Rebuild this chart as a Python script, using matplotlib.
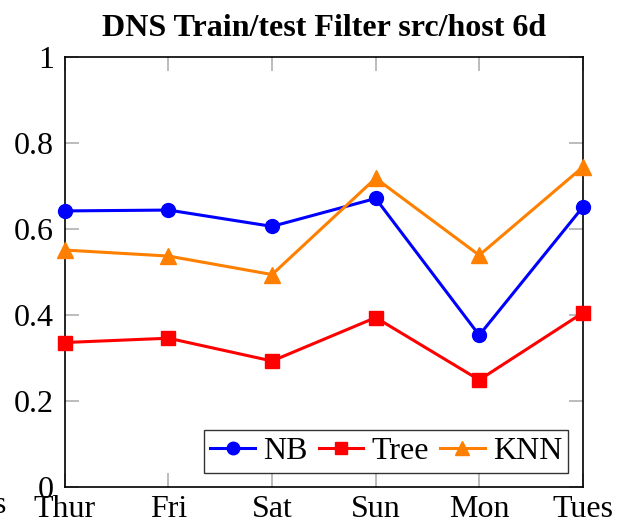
import matplotlib.pyplot as plt

days = ["Thur", "Fri", "Sat", "Sun", "Mon", "Tues"]
nb = [0.642, 0.644, 0.606, 0.671, 0.353, 0.651]
tree = [0.336, 0.346, 0.293, 0.394, 0.249, 0.405]
knn = [0.551, 0.537, 0.494, 0.718, 0.539, 0.744]
yticks = [0, 0.2, 0.4, 0.6, 0.8, 1]
ytick_labels = ["0", "0.2", "0.4", "0.6", "0.8", "1"]

plt.rcParams["font.family"] = ["Liberation Serif", "DejaVu Serif"]
plt.rcParams["font.size"] = 23

fig = plt.figure(figsize=(6.24, 5.27), dpi=100)
ax = fig.add_axes([0.104, 0.0759, 0.830, 0.816])

xs = list(range(len(days)))
ax.plot(xs, nb, color="#0000ff", marker="o", markersize=10, lw=2.2, label="NB", clip_on=False, zorder=3)
ax.plot(xs, tree, color="#ff0000", marker="s", markersize=10, lw=2.2, label="Tree", clip_on=False, zorder=3)
ax.plot(xs, knn, color="#ff8000", marker="^", markersize=11, lw=2.2, label="KNN", clip_on=False, zorder=3)

ax.set_xlim(0, len(days) - 1)
ax.set_ylim(0, 1)
ax.set_xticks(xs)
ax.set_xticklabels(days)
ax.set_yticks(yticks)
ax.set_yticklabels(ytick_labels)
ax.tick_params(axis="both", direction="in", length=10, width=1.2, color="#b0b0b0",
               top=True, right=True, labelsize=23)
ax.tick_params(axis="x", pad=6)
ax.tick_params(axis="y", pad=8)
for s in ax.spines.values():
    s.set_linewidth(1.2)

ax.set_title("DNS Train/test Filter src/host 6d", fontweight="bold", fontsize=23, pad=15)

leg = ax.legend(loc="lower right", ncol=3, fontsize=23, frameon=True, fancybox=False,
                edgecolor="black", handlelength=1.4, handletextpad=0.25, columnspacing=0.35,
                borderpad=0.2, borderaxespad=0.45, markerscale=0.9)
leg.get_frame().set_linewidth(1.0)

fig.text(0.0, 0.04, "s", fontsize=23, ha="center", va="center")

fig.savefig("out.png", dpi=100)
